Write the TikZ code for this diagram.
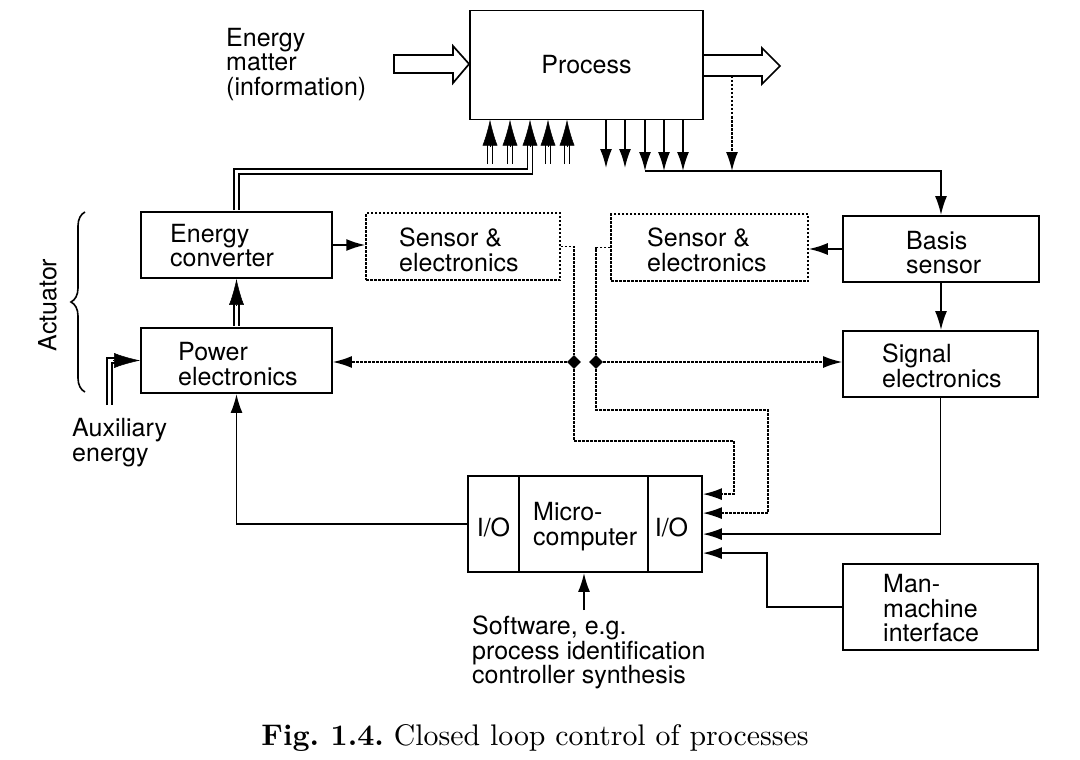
\documentclass[tikz,border=0pt]{standalone}
\usepackage{fontspec}
\newfontfamily\hv{TeX Gyre Heros}
\newfontfamily\capfont{lmroman10-regular.otf}[BoldFont=lmroman10-bold.otf]
\usetikzlibrary{arrows.meta,shapes.geometric,decorations.pathreplacing,calc}
\begin{document}
\frenchspacing
\begin{tikzpicture}[x=1pt,y=-1pt,
  blk/.style={draw, line width=1.8pt, inner sep=0pt},
  dblk/.style={draw, line width=1.5pt, dash pattern=on 2.5pt off 1.5pt, inner sep=0pt},
  txt/.style={font=\hv\fontsize{25}{24.5}\selectfont, align=left, inner sep=0pt, anchor=west},
  ln/.style={line width=1.8pt},
  arr/.style={ln, -{Latex[length=19pt,width=12pt]}},
  dotln/.style={line width=1.5pt, dash pattern=on 2.5pt off 1.5pt},
  darr/.style={dotln, -{Latex[length=19pt,width=12pt]}},
  dbl/.style={line width=1.6pt, double, double distance=3.2pt},
  dhead/.style={line width=0.5pt, -{Latex[length=26pt,width=15pt]}},
  junction/.style={diamond, fill, inner sep=0pt, minimum width=14pt, minimum height=14pt},
]
\useasboundingbox (0,0) rectangle (1080,760);

% ---------- boxes ----------
\node[blk, minimum width=233pt, minimum height=109pt, font=\hv\fontsize{25}{24.5}\selectfont] (proc) at (586.5,65) {Process};
\node[blk, minimum width=191pt, minimum height=66pt] (ec) at (236.5,245) {};
\node[txt] (ect) at (170,245.5) {Energy\\converter};
\node[blk, minimum width=191pt, minimum height=65pt] (pe) at (236.5,360.5) {};
\node[txt] (pet) at (178,364) {Power\\electronics};
\node[dblk, minimum width=194pt, minimum height=67pt] (sl) at (463,246.5) {};
\node[txt] (slt) at (399,250) {Sensor \&\\electronics};
\node[dblk, minimum width=197pt, minimum height=67pt] (sr) at (709.5,247.5) {};
\node[txt] (srt) at (647,250) {Sensor \&\\electronics};
\node[blk, minimum width=196pt, minimum height=66pt] (bs) at (941,249) {};
\node[txt] (bst) at (906,252.5) {Basis\\sensor};
\node[blk, minimum width=195pt, minimum height=66pt] (se) at (940.5,364) {};
\node[txt] (set) at (882,366) {Signal\\electronics};
\node[blk, minimum width=195pt, minimum height=86pt] (mmi) at (940.5,607) {};
\node[txt] (mmit) at (883,608.5) {Man-\\machine\\interface};
\node[blk, minimum width=234pt, minimum height=96pt] (mc) at (585,524) {};
\draw[line width=1.8pt] ($(mc.north west)+(52,0)$) -- ($(mc.south west)+(52,0)$);
\draw[line width=1.8pt] ($(mc.north west)+(181,0)$) -- ($(mc.south west)+(181,0)$);
\node[txt, anchor=center] (io1) at (493.5,527) {I/O};
\node[txt] (mct) at (533,526.5) {Micro-\\computer};
\node[txt, anchor=center] (io2) at (671.5,527) {I/O};

% ---------- free texts ----------
\node[txt] (emi) at (226,64.5) {Energy\\matter\\(information)};
\node[txt] (aux) at (72,442.5) {Auxiliary\\energy};
\node[txt] (sw) at (472,652.5) {Software, e.g.\\process identification\\controller synthesis};
\node[txt, anchor=center, rotate=90] (act) at (47.5,305) {Actuator};
\node[font=\capfont\fontsize{29.8}{32}\selectfont, inner sep=0pt] (cap) at (535,738) {\textbf{Fig. 1.4.} Closed loop control of processes};

% ---------- brace ----------
\draw[line width=1.6pt, decorate, decoration={brace, amplitude=14pt}] (85,392) -- (85,212);

% ---------- fat arrows ----------
\draw[line width=1.7pt, line join=miter] (394,55) -- (453,55) -- (453,46) -- (proc.west |- 0,64) -- (453,83) -- (453,73) -- (394,73) -- cycle;
\draw[line width=1.7pt, line join=miter] (proc.east |- 0,55) -- (762,55) -- (762,48) -- (780,66) -- (762,84) -- (762,76) -- (proc.east |- 0,76);

% ---------- junctions ----------
\node[junction] (j1) at (574,362) {};
\node[junction] (j2) at (596,362) {};

% ---------- coordinates ----------
\coordinate (mi1) at ($(mc.north east)+(0,19)$);
\coordinate (mi2) at ($(mc.north east)+(0,38)$);
\coordinate (mi3) at ($(mc.north east)+(0,59)$);
\coordinate (mi4) at ($(mc.north east)+(0,78)$);
\coordinate (d1) at (734,441);
\coordinate (d2) at (768,410);
\coordinate (kx) at (767,0);
\coordinate (swtop) at (584,610);
\coordinate (busl) at (645,171);
\coordinate (mout) at (732,76);
\coordinate (auxb) at (109.5,405);
\coordinate (r1) at (236.5,171.5);
\coordinate (r2) at (530,171.5);

% ---------- double-line connectors ----------
\foreach \x in {490,510,548,567} {
  \draw[dbl] (\x,164) -- (\x,135);
}
\draw[dbl] ($(ec.north)+(0,-0.9)$) -- (r1) -- (r2) -- ($(r2)+(0,-36)$);
\draw[dbl] ($(pe.north)+(0,-0.9)$) -- ($(ec.south)+(0,15)$);
\draw[dbl] (auxb) -- (auxb |- pe.west) -- ($(pe.west)+(-15,0)$);
\foreach \x in {490,510,530,548,567} {
  \draw[dhead] (\x,147) -- (\x,119.5);
}
\draw[dhead] ($(ec.south)+(0,27)$) -- (ec.south);
\draw[dhead] ($(pe.west)+(-27,0)$) -- (pe.west);

% ---------- process outputs ----------
\foreach \x in {606,625} { \draw[arr] (\x,119.5) -- (\x,168); }
\foreach \x in {645,664,683} { \draw[arr] (\x,119.5) -- (\x,171); }
\draw[arr] (busl) -| (bs.north);
\draw[darr] (mout) -- (mout |- busl);

% ---------- solid connectors ----------
\draw[arr] (ec.east) -- (ec.east -| sl.west);
\draw[arr] (bs.west) -- (bs.west -| sr.east);
\draw[arr] (bs.south) -- (bs.south |- se.north);
\draw[arr] (se.south) |- (mi3);
\draw[arr] (mmi.west) -- (mmi.west -| kx) |- (mi4);
\draw[arr] (mc.west) -| (pe.south);
\draw[arr] (swtop) -- (swtop |- mc.south);

% ---------- dotted connectors ----------
\draw[dotln] (sl.east) -- (sl.east -| j1) -- (j1);
\draw[darr] (j1) -- (j1 -| pe.east);
\draw[darr] (j1) |- (d1) |- (mi1);
\draw[dotln] (sr.west) -| (j2);
\draw[darr] (j2) -- (j2 -| se.west);
\draw[darr] (j2) |- (d2) |- (mi2);
\end{tikzpicture}
\end{document}
